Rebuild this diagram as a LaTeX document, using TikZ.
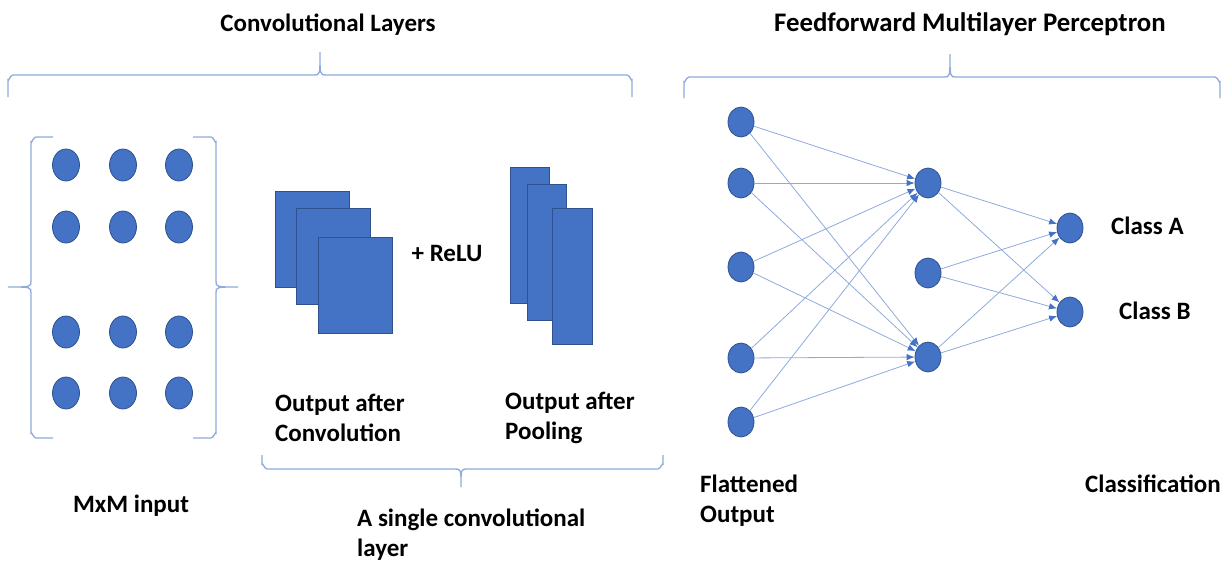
\documentclass[tikz,border=0pt]{standalone}
\usepackage{fontspec}
\setmainfont{Carlito}
\usetikzlibrary{shapes.geometric,arrows.meta}
\definecolor{nodeblue}{HTML}{4472C4}
\definecolor{nodeedge}{HTML}{2F528F}
\definecolor{lineblue}{HTML}{8FAADC}
\begin{document}
\begin{tikzpicture}[x=1pt,y=-1pt,
  unit/.style={ellipse,fill=nodeblue,draw=nodeedge,line width=0.8pt,
               minimum width=27pt,minimum height=32pt,inner sep=0pt},
  neuron/.style={unit,minimum width=26pt,minimum height=30pt},
  fmap/.style={fill=nodeblue,draw=nodeedge,line width=0.8pt},
  brace/.style={draw=lineblue,line width=1.3pt},
  link/.style={draw=lineblue,line width=0.8pt,
               -{Latex[length=8pt,width=6.5pt,color=nodeblue]}},
  label/.style={font=\fontsize{25}{30}\selectfont\bfseries,inner sep=0pt,align=left},
]
\useasboundingbox (0,0) rectangle (1229,560);

% ---- titles ----
\node[label,anchor=base] (convtitle) at (328,31) {Convolutional Layers};
\node[label,anchor=base,font=\fontsize{26.8}{30}\selectfont\bfseries]
  (mlptitle) at (970,31) {Feedforward Multilayer Perceptron};

% ---- top braces ----
\path[brace] (8,97) -- (8,80) to[out=-90,in=180] (13,75) -- (314,75)
  .. controls (320,75) .. (320,52) .. controls (320,75) .. (326,75)
  -- (627,75) to[out=0,in=-90] (632,80) -- (632,97);
\path[brace] (684,98) -- (684,82) to[out=-90,in=180] (689,77) -- (944,77)
  .. controls (950,77) .. (950,54) .. controls (950,77) .. (956,77)
  -- (1215,77) to[out=0,in=-90] (1220,82) -- (1220,98);

% ---- input grid ----
\foreach \r/\y in {1/165,2/227,3/332,4/393}
  \foreach \c/\x in {1/66,2/123,3/179}
    \node[unit] (g\r\c) at (\x,\y) {};

% side braces of the input grid
\path[brace] (53,137) -- (36,137) to[out=180,in=-90] (31,142) -- (31,281)
  .. controls (31,287) .. (8,287) .. controls (31,287) .. (31,293)
  -- (31,433) to[out=90,in=180] (36,438) -- (53,438);
\path[brace] (193,137) -- (211,137) to[out=0,in=-90] (216,142) -- (216,281)
  .. controls (216,287) .. (238,287) .. controls (216,287) .. (216,293)
  -- (216,433) to[out=90,in=0] (211,438) -- (193,438);
\node[label,anchor=base] (inlabel) at (131,512) {MxM input};

% ---- feature maps after convolution ----
\path[fmap] (275,191) rectangle (349,287);
\path[fmap] (296,208) rectangle (370,304);
\path[fmap] (318,237) rectangle (392,333);
\node[label,anchor=base] (relu) at (447,261) {+ ReLU};
% ---- feature maps after pooling ----
\path[fmap] (510,167) rectangle (549,303);
\path[fmap] (527,184) rectangle (566,320);
\path[fmap] (552,208) rectangle (592,344);

% multi-line labels are placed by the baseline of their last line
\node[label,anchor=base west] (convout) at (275,441) {Output after\\Convolution};
\node[label,anchor=base west] (poolout) at (505,439) {Output after\\Pooling};

% bottom brace of one convolutional layer
\path[brace] (262,455) -- (262,464) to[out=90,in=180] (267,469) -- (455,469)
  .. controls (461,469) .. (461,487) .. controls (461,469) .. (467,469)
  -- (658,469) to[out=0,in=90] (663,464) -- (663,455);
\node[label,anchor=base west] (layerlabel) at (357,556) {A single convolutional\\layer};

% ---- perceptron ----
\foreach \i/\y in {1/122,2/183,3/267,4/358,5/422}
  \node[neuron] (in\i) at (741,\y) {};
\node[neuron] (h1) at (928,183) {};
\node[neuron] (h2) at (928,273) {};
\node[neuron] (h3) at (928,357) {};
\node[neuron] (oA) at (1070,228) {};
\node[neuron] (oB) at (1070,312) {};

\foreach \i in {1,...,5} {
  \draw[link] (in\i) -- (h1);
  \draw[link] (in\i) -- (h3);
}
\foreach \h in {h1,h2,h3} {
  \draw[link] (\h) -- (oA);
  \draw[link] (\h) -- (oB);
}

\node[label,anchor=base west] (clsA) at (1111,234) {Class A};
\node[label,anchor=base west] (clsB) at (1119,319) {Class B};
\node[label,anchor=base west] (flat) at (700,522) {Flattened\\Output};
\node[label,anchor=base west] (clsf) at (1085,492) {Classification};
\end{tikzpicture}
\end{document}
